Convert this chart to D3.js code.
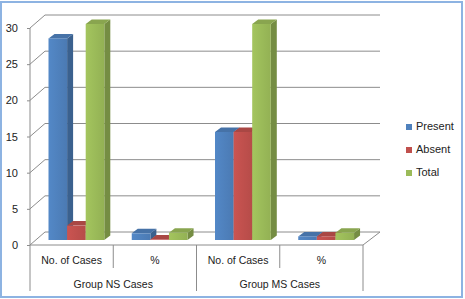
<!DOCTYPE html>
<html><head><meta charset="utf-8">
<script src="https://cdn.jsdelivr.net/npm/d3@7"></script>
<style>html,body{margin:0;padding:0;background:#fff;}svg{display:block;}</style>
</head><body>
<script>
const categories = ["No. of Cases", "%", "No. of Cases", "%"];
const groups = ["Group NS Cases", "Group MS Cases"];
const series = ["Present", "Absent", "Total"];
const present = [28, 0.93, 15, 0.5];
const absent = [2, 0.07, 15, 0.5];
const total = [30, 1, 30, 1];
const yTicks = [0, 5, 10, 15, 20, 25, 30];

const W = 465, H = 299;
const colors = {Present: "#4f81bd", Absent: "#c0504d", Total: "#9bbb59"};
const values = {Present: present, Absent: absent, Total: total};

const svg = d3.select("body").append("svg").attr("width", W).attr("height", H)
  .style("font-family", "'Liberation Sans', Arial, sans-serif");

// border
svg.append("rect").attr("x", 1).attr("y", 2).attr("width", 461).attr("height", 295)
  .attr("fill", "#fff").attr("stroke", "#8db3e2").attr("stroke-width", 2);

const left = 30, right = 363;
const floorFront = 245, floorBack = 232;
const depthX = 15;
const x = d3.scaleBand().domain(d3.range(categories.length)).range([left, right]);
const yFront = d3.scaleLinear().domain([0, 30]).range([floorFront, 28]);
const yBack = d3.scaleLinear().domain([0, 30]).range([floorBack, 15]);
const yBar = d3.scaleLinear().domain([0, 30]).range([240, 24]);
const xs = d3.scaleBand().domain(series).range([18.5, 18.5 + 3 * 18.6]);

const grid = "#8c8c8c";
// back wall gridlines
svg.append("g").selectAll("line").data(yTicks).join("line")
  .attr("x1", left + depthX).attr("x2", right + depthX + 2)
  .attr("y1", d => yBack(d)).attr("y2", d => yBack(d))
  .attr("stroke", grid).attr("stroke-width", 1);
// side wall diagonals
svg.append("g").selectAll("line").data(yTicks).join("line")
  .attr("x1", left).attr("x2", left + depthX)
  .attr("y1", d => yFront(d)).attr("y2", d => yBack(d))
  .attr("stroke", grid).attr("stroke-width", 1);
// floor right edge
svg.append("line").attr("x1", right).attr("y1", floorFront)
  .attr("x2", right + depthX + 2).attr("y2", floorBack)
  .attr("stroke", grid);

// front axis
const axis = d3.axisLeft(yFront).tickValues(yTicks).tickSize(3).tickPadding(9);
const ag = svg.append("g").attr("transform", `translate(${left},0)`).call(axis);
ag.select(".domain").remove();
ag.selectAll(".tick line").attr("stroke", grid);
ag.selectAll(".tick text").attr("font-size", 11).attr("fill", "#222")
  .attr("font-family", "'Liberation Sans', Arial, sans-serif");
svg.append("line").attr("x1", left).attr("x2", left).attr("y1", yFront(30)).attr("y2", 291)
  .attr("stroke", grid);

// gradients
const defs = svg.append("defs");
series.forEach(s => {
  const c = d3.color(colors[s]);
  const g = defs.append("linearGradient").attr("id", "g" + s).attr("x1", 0).attr("x2", 1).attr("y1", 0).attr("y2", 0);
  g.append("stop").attr("offset", 0).attr("stop-color", c.brighter(0.15));
  g.append("stop").attr("offset", 0.5).attr("stop-color", c);
  g.append("stop").attr("offset", 1).attr("stop-color", c.darker(0.15));
});

// bars
const dX = 6, dY = 4.5;
const barData = [];
categories.forEach((c, i) => series.forEach(s => barData.push({i, s, v: values[s][i]})));
const bars = svg.append("g");
barData.forEach(d => {
  const x0 = x(d.i) + xs(d.s), w = xs.bandwidth();
  const yT = yBar(d.v), yB = yBar(0);
  const c = d3.color(colors[d.s]);
  const g = bars.append("g");
  g.append("path").attr("d", `M${x0 + w},${yT}L${x0 + w + dX},${yT - dY}L${x0 + w + dX},${yB - dY}L${x0 + w},${yB}Z`)
    .attr("fill", c.darker(0.8));
  g.append("path").attr("d", `M${x0},${yT}L${x0 + dX},${yT - dY}L${x0 + w + dX},${yT - dY}L${x0 + w},${yT}Z`)
    .attr("fill", c.darker(0.35));
  g.append("rect").attr("x", x0).attr("y", yT).attr("width", w).attr("height", yB - yT)
    .attr("fill", `url(#g${d.s})`);
});

// category table
svg.append("line").attr("x1", left).attr("x2", right).attr("y1", floorFront).attr("y2", floorFront).attr("stroke", grid);
const bounds = d3.range(categories.length + 1);
svg.append("g").selectAll("line").data(bounds.slice(1)).join("line")
  .attr("x1", d => left + d * x.bandwidth()).attr("x2", d => left + d * x.bandwidth())
  .attr("y1", floorFront).attr("y2", d => d % 2 === 0 ? 291 : 268)
  .attr("stroke", grid);
svg.append("g").selectAll("text").data(categories).join("text")
  .attr("x", (d, i) => x(i) + x.bandwidth() / 2).attr("y", 261)
  .attr("text-anchor", "middle").attr("dominant-baseline", "middle")
  .attr("font-size", 10.5).attr("fill", "#222").text(d => d);
svg.append("g").selectAll("text").data(groups).join("text")
  .attr("x", (d, i) => x(i * 2) + x.bandwidth()).attr("y", 285)
  .attr("text-anchor", "middle").attr("dominant-baseline", "middle")
  .attr("font-size", 10.5).attr("fill", "#222").text(d => d);

// legend
const lg = svg.append("g").selectAll("g").data(series).join("g")
  .attr("transform", (d, i) => `translate(406,${127 + i * 23})`);
lg.append("rect").attr("x", 0).attr("y", -3).attr("width", 6).attr("height", 6).attr("fill", d => colors[d]);
lg.append("text").attr("x", 10).attr("y", 0).attr("dominant-baseline", "middle")
  .attr("font-size", 11).attr("fill", "#222").text(d => d);
</script>
</body></html>
